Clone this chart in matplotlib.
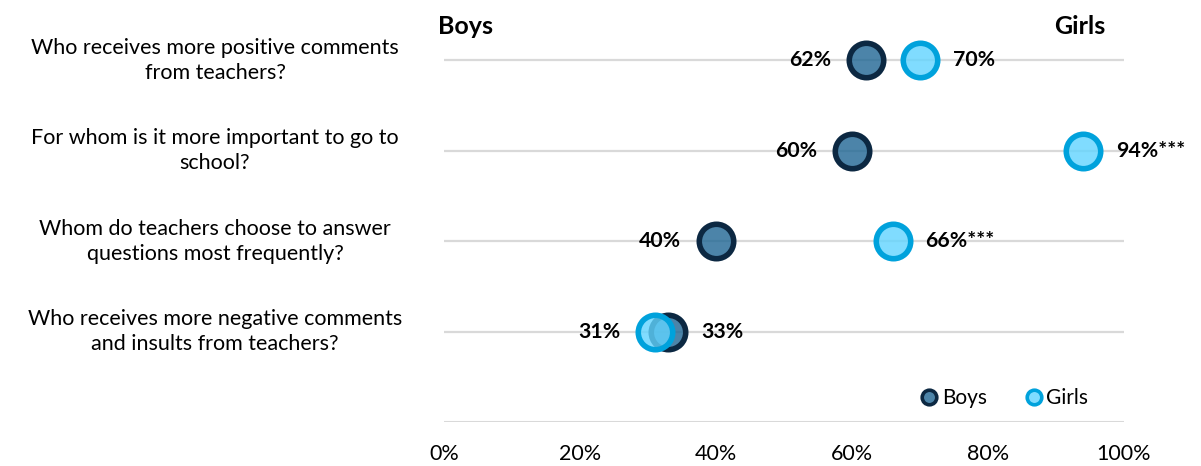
import matplotlib
matplotlib.use("Agg")
import matplotlib.pyplot as plt
from matplotlib.lines import Line2D

plt.rcParams["font.family"] = ["Lato", "DejaVu Sans"]

questions = [
    "Who receives more positive comments\nfrom teachers?",
    "For whom is it more important to go to\nschool?",
    "Whom do teachers choose to answer\nquestions most frequently?",
    "Who receives more negative comments\nand insults from teachers?",
]
boys = [62, 60, 40, 33]
girls = [70, 94, 66, 31]
girls_sig = ["", "***", "***", ""]
xticks = [0, 20, 40, 60, 80, 100]

boys_face = (0.12, 0.40, 0.58, 0.8)
boys_edge = "#0c2842"
girls_face = (0.38, 0.83, 1.0, 0.8)
girls_edge = "#00a2dc"
grid_col = "#d9d9d9"

fig = plt.figure(figsize=(12.01, 4.66), dpi=100)
ax = fig.add_axes([444 / 1201, 1 - 422 / 466, 680 / 1201, 407 / 466])
ax.set_xlim(0, 100)
ax.set_ylim(0, 4.5)

n = len(questions)
ypos = [n - i for i in range(n)]

for y in ypos:
    ax.axhline(y, color=grid_col, lw=1.6, zorder=1)
ax.axhline(0, color=grid_col, lw=2.2, zorder=1)

ax.scatter(boys, ypos, s=615, facecolor=boys_face, edgecolor=boys_edge,
           linewidth=4, zorder=3)
ax.scatter(girls, ypos, s=615, facecolor=girls_face, edgecolor=girls_edge,
           linewidth=4, zorder=4)

lab_kw = dict(fontsize=15.3, fontweight="bold", va="center", textcoords="offset points")
for y, b, g, sig in zip(ypos, boys, girls, girls_sig):
    if b <= g:
        ax.annotate(f"{b}%", (b, y), xytext=(-25, 0), ha="right", **lab_kw)
        ax.annotate(f"{g}%{sig}", (g, y), xytext=(23.5, 0), ha="left", **lab_kw)
    else:
        ax.annotate(f"{g}%{sig}", (g, y), xytext=(-25, 0), ha="right", **lab_kw)
        ax.annotate(f"{b}%", (b, y), xytext=(23.5, 0), ha="left", **lab_kw)

for y, q in zip(ypos, questions):
    ax.text((215 - 444) / 680, y, q, transform=ax.get_yaxis_transform(), ha="center",
            va="center", multialignment="center", fontsize=15.5, linespacing=1.3)

ax.text(-0.009, 1.0, "Boys", transform=ax.transAxes, ha="left", va="top",
        fontsize=18, fontweight="bold")
ax.text(0.972, 1.0, "Girls", transform=ax.transAxes, ha="right", va="top",
        fontsize=18, fontweight="bold")

ax.set_xticks(xticks)
ax.set_xticklabels([f"{t}%" for t in xticks], fontsize=15.5)
ax.tick_params(axis="x", length=0, pad=16)
ax.set_yticks([])
for sp in ax.spines.values():
    sp.set_visible(False)

handles = [
    Line2D([], [], ls="", marker="o", ms=10.5, mfc=boys_face, mec=boys_edge, mew=2.6, label="Boys"),
    Line2D([], [], ls="", marker="o", ms=10.5, mfc=girls_face, mec=girls_edge, mew=2.6, label="Girls"),
]
ax.legend(handles=handles, loc="lower right", bbox_to_anchor=(0.967, 0.0), ncol=2,
          frameon=False, fontsize=15, handletextpad=0.15, columnspacing=1.8,
          handlelength=0.9, borderaxespad=0.25)

fig.savefig("out.png", dpi=100)
